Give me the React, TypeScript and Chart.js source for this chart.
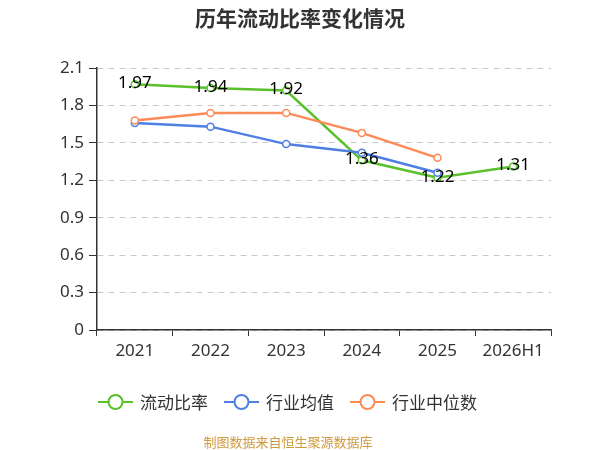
import { useEffect, useRef } from 'react';
import { Chart, registerables, Plugin } from 'chart.js';

Chart.register(...registerables);

const years = ['2021', '2022', '2023', '2024', '2025', '2026H1'];
const currentRatio = [1.97, 1.94, 1.92, 1.36, 1.22, 1.31];
const industryAvg = [1.66, 1.63, 1.49, 1.42, 1.26, null];
const industryMedian = [1.68, 1.74, 1.74, 1.58, 1.38, null];
const seriesNames = ['流动比率', '行业均值', '行业中位数'];
const colors = ['#5ac12c', '#4f7fe2', '#fe8a58'];

const FONT = '"Noto Sans", "Noto Sans CJK SC", sans-serif';
const CJK = '"Noto Sans CJK SC", "Noto Sans", sans-serif';

const decorations: Plugin<'line'> = {
  id: 'decorations',
  afterDatasetsDraw(chart) {
    const { ctx } = chart;
    ctx.save();

    // value labels on the main series
    const meta = chart.getDatasetMeta(0);
    ctx.fillStyle = '#000';
    ctx.font = `17px ${FONT}`;
    ctx.textAlign = 'center';
    ctx.textBaseline = 'middle';
    meta.data.forEach((pt, i) => {
      ctx.fillText(currentRatio[i].toFixed(2), pt.x, pt.y - 1);
    });

    // title
    ctx.fillStyle = '#333';
    ctx.font = `bold 21px ${CJK}`;
    ctx.fillText('历年流动比率变化情况', 300, 18);

    // legend
    const legendX = [98, 224, 350];
    ctx.font = `17px ${CJK}`;
    ctx.textAlign = 'left';
    seriesNames.forEach((name, i) => {
      const x = legendX[i];
      const y = 402;
      ctx.strokeStyle = colors[i];
      ctx.lineWidth = 2;
      ctx.beginPath();
      ctx.moveTo(x, y);
      ctx.lineTo(x + 35, y);
      ctx.stroke();
      ctx.beginPath();
      ctx.arc(x + 17.5, y, 7, 0, Math.PI * 2);
      ctx.fillStyle = '#fff';
      ctx.fill();
      ctx.stroke();
      ctx.fillStyle = '#333';
      ctx.fillText(name, x + 42, y + 1);
    });

    // source note
    ctx.textAlign = 'center';
    ctx.fillStyle = '#d09a3e';
    ctx.font = `13px ${CJK}`;
    ctx.fillText('制图数据来自恒生聚源数据库', 288, 442);

    ctx.restore();
  }
};

export default function App() {
  const canvas = useRef<HTMLCanvasElement | null>(null);

  useEffect(() => {
    const node = canvas.current;
    if (!node) {
      return;
    }
    document.body.style.margin = '0';

    const series = [currentRatio, industryAvg, industryMedian];
    const chart = new Chart(node, {
      type: 'line',
      data: {
        labels: years,
        datasets: series.map((data, i) => ({
          label: seriesNames[i],
          data,
          borderColor: colors[i],
          backgroundColor: '#fff',
          borderWidth: 2.5,
          pointRadius: 3.5,
          pointBorderWidth: 1.5,
          pointBackgroundColor: '#fff',
          pointBorderColor: colors[i],
          tension: 0,
          order: 3 - i
        }))
      },
      options: {
        responsive: false,
        animation: false,
        layout: { padding: { left: 45, right: 49, top: 68, bottom: 80 } },
        plugins: {
          legend: { display: false },
          tooltip: { enabled: false },
          title: { display: false }
        },
        scales: {
          x: {
            offset: true,
            afterFit: (s) => {
              s.height = 40;
            },
            grid: {
              offset: true,
              drawOnChartArea: false,
              tickLength: 6,
              tickColor: '#333'
            },
            border: { color: '#333', width: 1.5 },
            ticks: { color: '#333', font: { family: FONT, size: 17 }, padding: 5 }
          },
          y: {
            min: 0,
            max: 2.1,
            afterFit: (s) => {
              s.width = 52;
            },
            ticks: {
              stepSize: 0.3,
              color: '#333',
              padding: 5,
              font: { family: FONT, size: 17 },
              callback: (v) => String(Number(Number(v).toFixed(1)))
            },
            grid: {
              color: '#c8c8c8',
              tickColor: '#333',
              tickLength: 8,
              tickBorderDash: [],
              lineWidth: 1
            },
            border: { color: '#333', width: 1.5, dash: [6, 5] }
          }
        }
      },
      plugins: [decorations]
    });

    return () => {
      chart.destroy();
    };
  }, []);

  return <canvas ref={canvas} width={600} height={450} aria-label="历年流动比率变化情况" role="img" />;
}
